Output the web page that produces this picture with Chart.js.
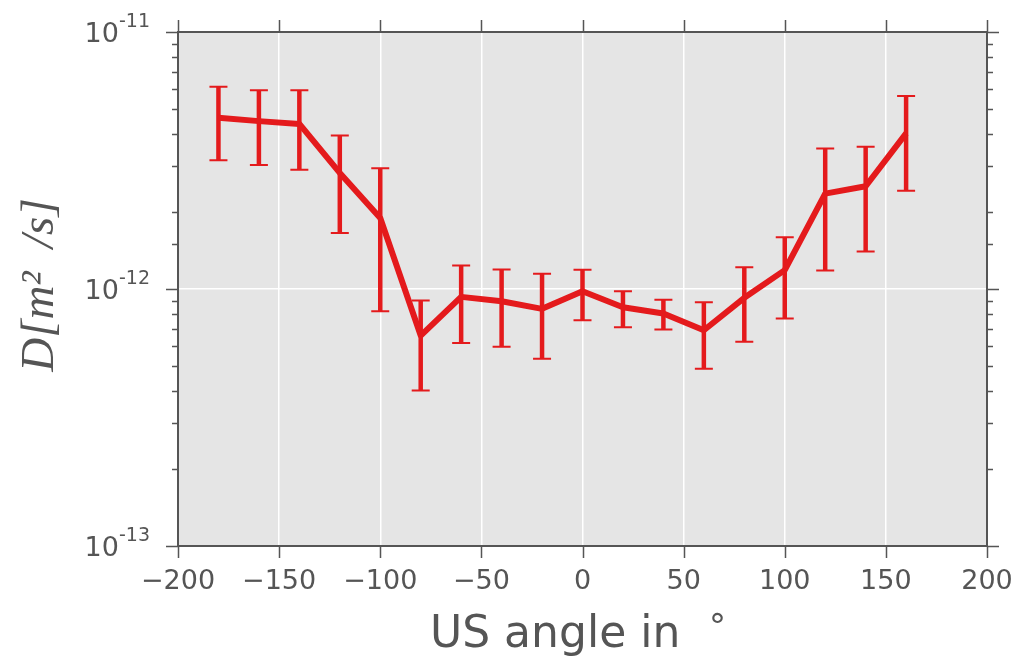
<!DOCTYPE html>
<html>
<head>
<meta charset="utf-8">
<script src="https://cdn.jsdelivr.net/npm/chart.js@4.4.1/dist/chart.umd.min.js"></script>
<style>
  html, body { margin: 0; padding: 0; background: #fff; }
  #wrap { width: 1020px; height: 661px; }
</style>
</head>
<body>
<div id="wrap"><canvas id="plot"></canvas></div>
<script>
// US angle in degrees
const angles = [-180, -160, -140, -120, -100, -80, -60, -40, -20, 0, 20, 40, 60, 80, 100, 120, 140, 160];
// diffusion coefficient D [m^2/s], with upper/lower ends of the error bars
const dValues = [4.64e-12, 4.50e-12, 4.39e-12, 2.83e-12, 1.89e-12, 6.59e-13, 9.32e-13, 8.96e-13, 8.37e-13,
                 9.80e-13, 8.49e-13, 8.03e-13, 6.91e-13, 9.24e-13, 1.184e-12, 2.35e-12, 2.51e-12, 4.03e-12];
const dUpper = [6.12e-12, 5.94e-12, 5.94e-12, 3.96e-12, 2.95e-12, 9.02e-13, 1.234e-12, 1.19e-12, 1.146e-12,
                1.188e-12, 9.80e-13, 9.08e-13, 8.89e-13, 1.215e-12, 1.59e-12, 3.52e-12, 3.58e-12, 5.63e-12];
const dLower = [3.17e-12, 3.04e-12, 2.91e-12, 1.65e-12, 8.19e-13, 4.03e-13, 6.17e-13, 5.96e-13, 5.35e-13,
                7.56e-13, 7.10e-13, 6.96e-13, 4.89e-13, 6.23e-13, 7.68e-13, 1.18e-12, 1.40e-12, 2.41e-12];
const yExponents = ["-11", "-12", "-13"];

const red = "#e41a1c";
const axisGrey = "#555555";

function isDecade(v) {
  let l = Math.log10(v);
  return Math.abs(l - Math.round(l)) < 1e-6;
}

const framePlugin = {
  id: "frame",
  beforeDraw(chart) {
    let a = chart.chartArea, ctx = chart.ctx;
    ctx.save();
    ctx.fillStyle = "#e5e5e5";
    ctx.fillRect(a.left, a.top, a.right - a.left, a.bottom - a.top);
    ctx.restore();
  },
  beforeDatasetsDraw(chart) {
    // error bars
    let ctx = chart.ctx, xs = chart.scales.x, ys = chart.scales.y;
    ctx.save();
    ctx.strokeStyle = red;
    for (let i = 0; i < angles.length; i++) {
      let px = xs.getPixelForValue(angles[i]);
      let top = ys.getPixelForValue(dUpper[i]);
      let bot = ys.getPixelForValue(dLower[i]);
      ctx.lineWidth = 4.5;
      ctx.beginPath();
      ctx.moveTo(px, top);
      ctx.lineTo(px, bot);
      ctx.stroke();
      ctx.lineWidth = 2;
      ctx.beginPath();
      ctx.moveTo(px - 9, top); ctx.lineTo(px + 9, top);
      ctx.moveTo(px - 9, bot); ctx.lineTo(px + 9, bot);
      ctx.stroke();
    }
    ctx.restore();
  },
  afterDraw(chart) {
    let a = chart.chartArea, ctx = chart.ctx, xs = chart.scales.x, ys = chart.scales.y;
    ctx.save();
    ctx.strokeStyle = axisGrey;
    ctx.lineWidth = 2;
    ctx.strokeRect(a.left, a.top, a.right - a.left, a.bottom - a.top);

    // x ticks, bottom and top
    ctx.lineWidth = 1.5;
    ctx.beginPath();
    xs.ticks.forEach(t => {
      let px = Math.round(xs.getPixelForValue(t.value)) + 0.5;
      ctx.moveTo(px, a.bottom); ctx.lineTo(px, a.bottom + 12);
      ctx.moveTo(px, a.top); ctx.lineTo(px, a.top - 12);
    });
    // y ticks, left and right
    ys.ticks.forEach(t => {
      let py = Math.round(ys.getPixelForValue(t.value)) + 0.5;
      let len = isDecade(t.value) ? 12 : 6;
      ctx.moveTo(a.left, py); ctx.lineTo(a.left - len, py);
      ctx.moveTo(a.right, py); ctx.lineTo(a.right + len, py);
    });
    ctx.stroke();

    // y tick labels 10^n
    ctx.fillStyle = axisGrey;
    ctx.textBaseline = "alphabetic";
    let decades = ys.ticks.filter(t => isDecade(t.value)).sort((p, q) => q.value - p.value);
    decades.forEach((t, i) => {
      let py = ys.getPixelForValue(t.value);
      ctx.font = "19px 'DejaVu Sans'";
      ctx.textAlign = "right";
      ctx.fillText(yExponents[i], 150, py - 5);
      let ew = ctx.measureText(yExponents[i]).width;
      ctx.font = "27px 'DejaVu Sans'";
      ctx.fillText("10", 150 - ew, py + 10);
    });

    // y axis title
    ctx.save();
    ctx.translate(53, (a.top + a.bottom) / 2 - 4);
    ctx.rotate(-Math.PI / 2);
    ctx.textAlign = "center";
    ctx.textBaseline = "alphabetic";
    ctx.font = "italic 47px 'Liberation Serif'";
    ctx.fillText("D[m\u00B2  /s]", 0, 0);
    ctx.restore();

    // x axis title
    ctx.font = "44px 'DejaVu Sans'";
    ctx.textAlign = "left";
    ctx.fillText("US angle in", 430, 647);
    ctx.font = "34px 'DejaVu Sans'";
    ctx.fillText("\u00B0", 709, 638);
    ctx.restore();
  }
};

const ctx = document.getElementById("plot").getContext("2d");
const chart = new Chart(ctx, {
  type: "line",
  data: {
    datasets: [{
      data: angles.map((a, i) => ({ x: a, y: dValues[i] })),
      borderColor: red,
      borderWidth: 6,
      borderJoinStyle: "round",
      pointRadius: 0,
      tension: 0,
      fill: false
    }]
  },
  options: {
    responsive: true,
    maintainAspectRatio: false,
    animation: false,
    layout: { padding: { top: 32, right: 33, left: 0, bottom: 0 } },
    plugins: { legend: { display: false }, tooltip: { enabled: false } },
    scales: {
      x: {
        type: "linear",
        min: -200,
        max: 200,
        border: { display: false },
        grid: {
          drawTicks: false,
          color: c => (c.tick.value <= -200 || c.tick.value >= 200) ? "rgba(0,0,0,0)" : "#ffffff",
          lineWidth: 1.5
        },
        ticks: {
          stepSize: 50,
          padding: 20,
          color: axisGrey,
          font: { family: "DejaVu Sans", size: 27 },
          maxRotation: 0,
          callback: v => String(v).replace("-", "\u2212")
        },
        afterFit: s => { s.height = 115; s.paddingLeft = 0; s.paddingRight = 0; }
      },
      y: {
        type: "logarithmic",
        min: 1e-13,
        max: 1e-11,
        border: { display: false },
        grid: {
          drawTicks: false,
          color: c => (isDecade(c.tick.value) && c.index > 0 && c.tick.value < 1e-11 * 0.99) ? "#ffffff" : "rgba(0,0,0,0)",
          lineWidth: 1.5
        },
        ticks: { display: false },
        afterFit: s => { s.width = 178; s.paddingTop = 0; s.paddingBottom = 0; }
      }
    }
  },
  plugins: [framePlugin]
});
</script>
</body>
</html>
